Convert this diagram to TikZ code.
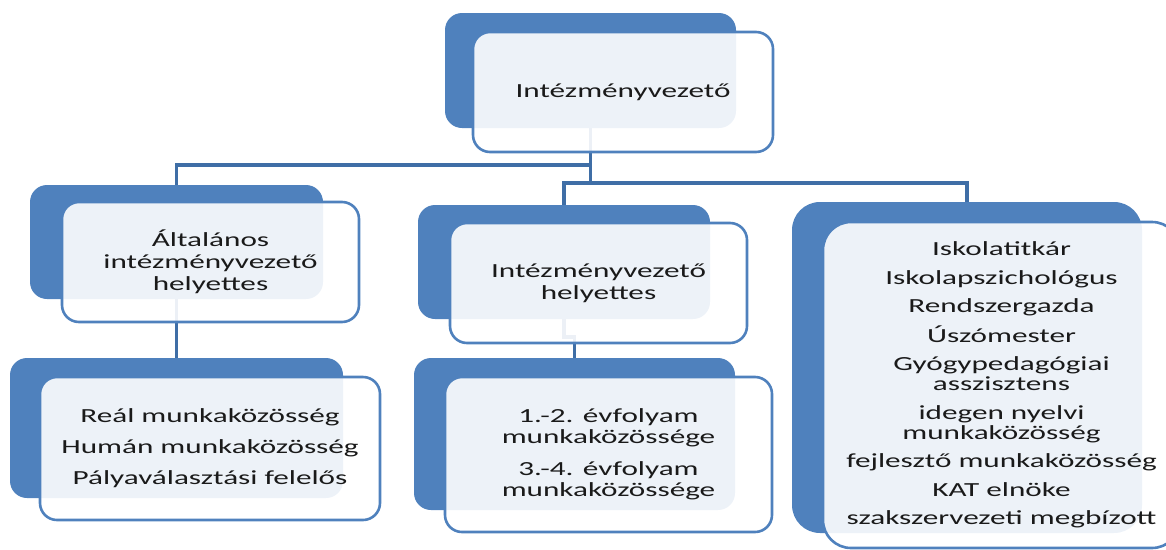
\documentclass[tikz,border=0pt]{standalone}
\usepackage{fontspec}
\setmainfont{Carlito}[FakeStretch=1.56]
\pgfdeclarelayer{background}
\pgfsetlayers{background,main}
\definecolor{accent}{HTML}{4F81BD}
\definecolor{linkc}{HTML}{3F6EA6}
\definecolor{txt}{HTML}{1A1A1A}
\tikzset{
  backbox/.style={rectangle, rounded corners=17pt, fill=accent, inner sep=0pt},
  frontbox/.style={rectangle, rounded corners=17pt, draw=accent, line width=2.6pt,
    fill=white, fill opacity=0.9, text opacity=1, text=txt, align=center, inner sep=0pt,
    font=\fontsize{20}{22}\selectfont},
  link/.style={draw=linkc, line width=3.2pt},
}
\begin{document}
\begin{tikzpicture}[x=1pt,y=-1pt]
\useasboundingbox (0,0) rectangle (1166,549);
% back boxes
\node[backbox, minimum width=291pt, minimum height=115pt] (tb) at (590.5,70.5) {};
\node[backbox, minimum width=293pt, minimum height=114pt] (lb) at (176.5,242) {};
\node[backbox, minimum width=333pt, minimum height=140pt] (lgb) at (176.5,428) {};
\node[backbox, minimum width=292pt, minimum height=114pt] (mb) at (564,262) {};
\node[backbox, minimum width=321pt, minimum height=152pt] (mgb) at (574.5,434) {};
\node[backbox, rounded corners=28pt, minimum width=350pt, minimum height=331pt] (rb) at (967,367.5) {};
% front boxes
\node[frontbox, minimum width=300pt, minimum height=120pt] (tf) at (623,92) {Intézményvezető};
\node[frontbox, minimum width=297pt, minimum height=120pt] (lf) at (210.5,262)
  {Általános\\intézményvezető\\helyettes};
\node[frontbox, minimum width=340pt, minimum height=143pt, font=\fontsize{20}{20}\selectfont] (lgf) at (210,448.5)
  {Reál munkaközösség\\[11pt]Humán munkaközösség\\[11pt]Pályaválasztási felelős};
\node[frontbox, minimum width=297pt, minimum height=120pt] (mf) at (598.5,283)
  {Intézményvezető\\helyettes};
\node[frontbox, minimum width=327pt, minimum height=155pt, font=\fontsize{20}{21}\selectfont] (mgf) at (608.5,454.5)
  {1.-2. évfolyam\\munkaközössége\\[11pt]3.-4. évfolyam\\munkaközössége};
\node[frontbox, rounded corners=28pt, minimum width=357pt, minimum height=326pt, font=\fontsize{20}{20}\selectfont] (rf) at (1001.5,385)
  {Iskolatitkár\\[8.5pt]Iskolapszichológus\\[8.5pt]Rendszergazda\\[8.5pt]Úszómester\\[8.5pt]Gyógypedagógiai\\asszisztens\\[8.5pt]idegen nyelvi\\munkaközösség\\[8.5pt]fejlesztő munkaközösség\\[8.5pt]KAT elnöke\\[8.5pt]szakszervezeti megbízott};
% connectors
\begin{pgfonlayer}{background}
\draw[link] (tb.south) -- (tb.south |- 0,165) -| (lb.north);
\draw[link] (tb.south |- 0,165) -- (tb.south |- 0,183) -| (mb.north);
\draw[link] (tb.south |- 0,183) -| (rb.north);
\draw[link] (lb.south) -- (lgb.north);
\draw[link] (mb.south) -- (mb.south |- 0,337) -| (mgb.north);
\end{pgfonlayer}
\end{tikzpicture}
\end{document}
